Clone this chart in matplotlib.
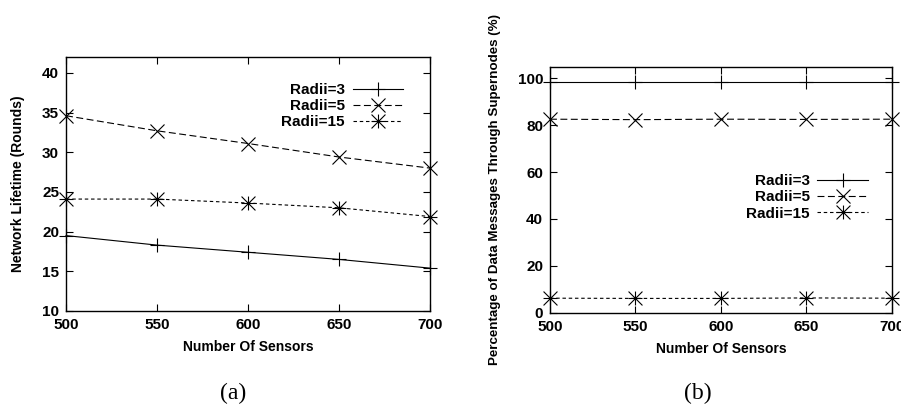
import matplotlib
matplotlib.use("Agg")
from matplotlib import pyplot as plt
from matplotlib.path import Path

SENSORS = [500, 550, 600, 650, 700]
RADII_LABELS = ["Radii=3", "Radii=5", "Radii=15"]

# (a) network lifetime in rounds
LIFETIME_R3 = [19.5, 18.3, 17.4, 16.5, 15.4]
LIFETIME_R5 = [34.6, 32.7, 31.1, 29.4, 28.0]
LIFETIME_R15 = [24.1, 24.1, 23.6, 23.0, 21.9]

# (b) share of data messages routed through supernodes (%)
SUPER_R3 = [98.3, 98.3, 98.3, 98.3, 98.3]
SUPER_R5 = [82.6, 82.4, 82.6, 82.5, 82.6]
SUPER_R15 = [6.2, 6.1, 6.1, 6.3, 6.2]

plt.rcParams.update({
    "font.family": ["Liberation Sans", "DejaVu Sans"],
    "font.size": 10,
    "font.weight": "bold",
    "axes.labelweight": "bold",
    "axes.labelsize": 10,
    "xtick.labelsize": 11,
    "ytick.labelsize": 11,
    "legend.fontsize": 11,
    "lines.scale_dashes": False,
})

# gnuplot-style star: "+" and "x" drawn on top of each other
STAR = Path([(-1, -1), (1, 1), (-1, 1), (1, -1), (-1, 0), (1, 0), (0, -1), (0, 1)],
            [Path.MOVETO, Path.LINETO] * 4)

STYLES = [
    dict(marker="+", markersize=9.5, linestyle="-"),
    dict(marker="x", markersize=10, dashes=(5, 2.5)),
    dict(marker=STAR, markersize=10, dashes=(2.5, 2)),
]


def draw(ax, series, ylim, yticks, ylabel, ylabel_size, legend_anchor):
    for vals, label, style in zip(series, RADII_LABELS, STYLES):
        ax.plot(SENSORS, vals, color="black", linewidth=0.8, markeredgewidth=0.8,
                label=label, clip_on=False, **style)
    ax.set_xlim(500, 700)
    ax.set_ylim(*ylim)
    ax.set_xticks(SENSORS)
    ax.set_yticks(yticks)
    ax.tick_params(direction="in", length=5, width=0.8, pad=5,
                   top=True, right=True)
    for s in ax.spines.values():
        s.set_linewidth(1.0)
    ax.set_xlabel("Number Of Sensors", labelpad=6)
    ax.set_ylabel(ylabel, labelpad=12, fontsize=ylabel_size)
    ax.legend(loc="upper right", bbox_to_anchor=legend_anchor, frameon=False,
              markerfirst=False, handlelength=3.3, handletextpad=0.5,
              borderpad=0, borderaxespad=0, labelspacing=0.15)


fig = plt.figure(figsize=(9.01, 4.05), dpi=100)

ax1 = fig.add_axes([0.0733, 0.2321, 0.4039, 0.6272])
draw(ax1, [LIFETIME_R3, LIFETIME_R5, LIFETIME_R15], (10, 42),
     [10, 15, 20, 25, 30, 35, 40], "Network Lifetime (Rounds)", 10, (0.926, 0.898))

ax2 = fig.add_axes([0.6104, 0.2279, 0.3793, 0.6074])
draw(ax2, [SUPER_R3, SUPER_R5, SUPER_R15], (0, 105),
     [0, 20, 40, 60, 80, 100], "Percentage of Data Messages Through Supernodes (%)", 9.6,
     (0.93, 0.563))

fig.text(233 / 901, 1 - 393 / 405, "(a)", ha="center", va="center",
         family="Liberation Serif", weight="normal", size=17)
fig.text(698 / 901, 1 - 393 / 405, "(b)", ha="center", va="center",
         family="Liberation Serif", weight="normal", size=17)

fig.savefig("out.png", dpi=100)
